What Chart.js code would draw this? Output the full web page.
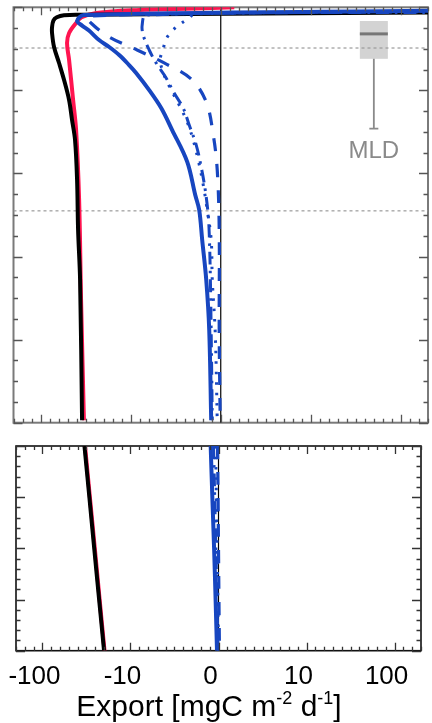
<!DOCTYPE html>
<html>
<head>
<meta charset="utf-8">
<script src="https://cdn.jsdelivr.net/npm/chart.js@4.4.1/dist/chart.umd.min.js"></script>
<style>
  html, body { margin: 0; padding: 0; background: #ffffff; }
  #wrap { position: relative; width: 432px; height: 723px; overflow: hidden; }
  canvas { position: absolute; left: 0; }
</style>
</head>
<body>
<div id="wrap">
  <canvas id="topChart" width="432" height="430" style="top:0px;width:432px;height:430px"></canvas>
  <canvas id="botChart" width="432" height="287" style="top:436px;width:432px;height:287px"></canvas>
</div>
<script>
// ---------------- DATA ----------------
// x axis tick marks (export, mgC m-2 d-1) and their labels
const xTickValues = [-100, -10, 0, 10, 100];
const xTickLabels = ['-100', '-10', '0', '10', '100'];

// upper panel (depth in m)
const blackDepthTop = [6, 9, 9.5, 12, 16, 24, 31, 47.8, 67, 87.5, 111.6, 135.7, 159.8, 208, 268, 328, 497];
const blackExportTop = [300, -35, -55, -66, -72, -74.5, -74.5, -70.8, -62.3, -54.8, -48.2, -44.7, -41.4, -39.3, -38.3, -36.4, -34.6];

const redDepthTop = [0, 2, 3.2, 6.9, 12, 18.9, 30.9, 43, 63.4, 111.6, 147.7, 232, 352, 497];
const redExportTop = [1.5, -5, -9, -24, -35, -40.3, -48.2, -50.8, -48.2, -43.5, -40.3, -37.3, -35.5, -33];

const blueSolidDepthTop = [4, 9.3, 16.5, 22, 28, 39.4, 47.8, 57.4, 69.5, 79, 99.6, 121.2, 147.7, 186, 226, 244, 280, 328, 388, 497];
const blueSolidExportTop = [300, -33, -39.3, -34.6, -29, -22.4, -17.3, -13.4, -10.4, -9.39, -7.94, -6.61, -5.39, -3.72, -2.83, -2.39, -2.06, -1.61, -1.28, -1.06];

const blueDashDepthTop = [5, 10.5, 20.1, 35.7, 51.4, 67, 86.3, 114, 153.8, 195.8, 268, 392, 497];
const blueDashExportTop = [300, -30.4, -26.8, -17.3, -9.28, -6.28, -3.28, -1.61, -0.83, -0.39, -0.17, -0.17, -0.06];

const blueDashDotDepthTop = [6, 9.3, 21.3, 33.3, 51.4, 67, 85.1, 103.2, 121.2, 141.7, 165.8, 192.2, 219.9, 250, 271.7, 316, 392, 497];
const blueDashDotExportTop = [300, -8.28, -8.72, -8.61, -7.94, -7.17, -6.06, -5.17, -4.17, -3.5, -2.72, -2.17, -1.72, -1.39, -1.28, -1.17, -1.06, -0.94];

const blueDotDepthTop = [4.5, 8.1, 12.9, 20.1, 28.5, 38.2, 50.2, 63.4, 81.5, 99.5, 117.6, 138, 159.7, 183.8, 213.9, 244, 280, 328, 392, 497];
const blueDotExportTop = [300, -2.94, -3.5, -4.5, -5.39, -6.06, -6.39, -6.72, -6.28, -5.5, -4.61, -3.72, -3.06, -2.5, -1.94, -1.5, -1.06, -0.94, -0.61, -0.39];

// reference depths (dotted lines) in upper panel
const refDepths = [49, 245];
// MLD box: [25th pct, median, 75th pct, max] depth, drawn at export value mldAt
const mldStats = [16.5, 32, 62, 146];
const mldAt = 50;

// lower panel (depth in m)
const deepDepth = [500, 1000, 1500, 2000, 2500];
const blackExportDeep = [-33.3, -29.3, -25.8, -22.7, -19.95];
const redExportDeep = [-32.8, -28.9, -25.4, -22.4, -19.7];
const blueSolidExportDeep = [-0.89, -0.7, -0.5, -0.33, -0.17];
const blueDashDotExportDeep = [-0.56, -0.43, -0.3, -0.17, -0.05];
const blueDotExportDeep = [-0.33, -0.24, -0.15, -0.07, 0];
const blueDashExportDeep = [-0.11, -0.05, 0, 0.05, 0.11];

// ---------------- HELPERS ----------------
const FONT = '"Liberation Sans", Arial, Helvetica, sans-serif';
const BLUE = '#1746c0';
const RED = '#ff1450';

// symmetric log transform: linear within +-10, one decade per unit outside
function T(v) {
  const a = Math.abs(v);
  return a <= 10 ? v / 10 : Math.sign(v) * (1 + Math.log10(a / 10));
}
function pts(depths, values) { return depths.map((d, i) => ({ x: T(values[i]), y: d })); }
function isMajorX(v) { return xTickValues.some(tv => Math.abs(T(tv) - v) < 1e-6); }

function curve(data, color, width, dash) {
  return { data, borderColor: color, borderWidth: width, borderDash: dash || [],
           pointRadius: 0, fill: false, tension: 0.35, borderCapStyle: 'butt', borderJoinStyle: 'round' };
}
function straight(data, color, width, dash) {
  return { data, borderColor: color, borderWidth: width, borderDash: dash || [],
           pointRadius: 0, fill: false, tension: 0, borderCapStyle: 'butt' };
}

function drawTicks(chart, yMajorEvery, color) {
  const { ctx, chartArea: a, scales: { x, y } } = chart;
  ctx.save();
  ctx.strokeStyle = color;
  ctx.lineWidth = 1.3;
  ctx.beginPath();
  x.ticks.forEach(t => {
    const px = Math.round(x.getPixelForValue(t.value)) + 0.5;
    const L = isMajorX(t.value) ? 8 : 4;
    ctx.moveTo(px, a.bottom); ctx.lineTo(px, a.bottom - L);
    ctx.moveTo(px, a.top); ctx.lineTo(px, a.top + L);
  });
  y.ticks.forEach(t => {
    const py = Math.round(y.getPixelForValue(t.value)) + 0.5;
    const L = (Math.abs(t.value % yMajorEvery) < 1e-6) ? 9 : 4.5;
    ctx.moveTo(a.left, py); ctx.lineTo(a.left + L, py);
    ctx.moveTo(a.right, py); ctx.lineTo(a.right - L, py);
  });
  ctx.stroke();
  ctx.restore();
}

const baseOptions = {
  responsive: false,
  animation: false,
  indexAxis: 'y',
  events: [],
  plugins: { legend: { display: false }, tooltip: { enabled: false }, title: { display: false } }
};

// ---------------- UPPER PANEL ----------------
const topDecor = {
  id: 'topDecor',
  beforeDatasetsDraw(chart) {
    const { ctx, chartArea: a, scales: { x, y } } = chart;
    ctx.save();
    ctx.strokeStyle = '#7a7a7a';
    ctx.lineWidth = 2;
    ctx.strokeRect(a.left, a.top, a.right - a.left, a.bottom - a.top);
    // MLD box plot
    const cx = x.getPixelForValue(T(mldAt));
    const hw = 14;
    const [q1, med, q3, mx] = mldStats.map(v => y.getPixelForValue(v));
    ctx.fillStyle = '#d3d3d3';
    ctx.fillRect(cx - hw, q1, 2 * hw, q3 - q1);
    ctx.strokeStyle = '#767676';
    ctx.lineWidth = 3;
    ctx.beginPath(); ctx.moveTo(cx - hw, med); ctx.lineTo(cx + hw, med); ctx.stroke();
    ctx.strokeStyle = '#8a8a8a';
    ctx.lineWidth = 1.8;
    ctx.beginPath();
    ctx.moveTo(cx, q3); ctx.lineTo(cx, mx);
    ctx.moveTo(cx - 4.5, mx); ctx.lineTo(cx + 4.5, mx);
    ctx.stroke();
    ctx.fillStyle = '#8a8a8a';
    ctx.font = '24px ' + FONT;
    ctx.textAlign = 'center';
    ctx.textBaseline = 'alphabetic';
    ctx.fillText('MLD', cx, mx + 29);
    ctx.restore();
  },
  afterDatasetsDraw(chart) { drawTicks(chart, 100, '#555'); }
};

new Chart(document.getElementById('topChart'), {
  type: 'line',
  data: {
    datasets: [
      curve(pts(blueSolidDepthTop, blueSolidExportTop), BLUE, 4),
      curve(pts(blueDashDepthTop, blueDashExportTop), BLUE, 3.2, [13, 13]),
      curve(pts(blueDashDotDepthTop, blueDashDotExportTop), BLUE, 3, [13, 6, 2.5, 6]),
      curve(pts(blueDotDepthTop, blueDotExportTop), BLUE, 3, [2.5, 8]),
      curve(pts(blackDepthTop, blackExportTop), '#000000', 4),
      curve(pts(redDepthTop, redExportTop), RED, 4),
      straight([{ x: 0, y: 0 }, { x: 0, y: 500 }], '#000000', 1.2),
      ...refDepths.map(d => straight([{ x: -2.3, y: d }, { x: 2.3, y: d }], '#9a9a9a', 1.2, [3, 3]))
    ]
  },
  options: {
    ...baseOptions,
    layout: { padding: { left: 13.5, right: 4, top: 7.3, bottom: 7.3 } },
    scales: {
      x: { type: 'linear', min: -2.3, max: 2.3, ticks: { display: false, stepSize: 0.1 },
           grid: { display: false, drawTicks: false }, border: { display: false },
           afterFit: s => { s.height = 0; } },
      y: { type: 'linear', min: 0, max: 500, reverse: true, ticks: { display: false, stepSize: 25 },
           grid: { display: false, drawTicks: false }, border: { display: false },
           afterFit: s => { s.width = 0; } }
    }
  },
  plugins: [topDecor]
});

// ---------------- LOWER PANEL ----------------
const botDecor = {
  id: 'botDecor',
  beforeDatasetsDraw(chart) {
    const { ctx, chartArea: a } = chart;
    ctx.save();
    ctx.strokeStyle = '#111';
    ctx.lineWidth = 1.6;
    ctx.strokeRect(a.left, a.top, a.right - a.left, a.bottom - a.top);
    ctx.restore();
  },
  afterDatasetsDraw(chart) { drawTicks(chart, 500, '#333'); },
  afterDraw(chart) {
    const { ctx } = chart;
    const parts = [
      { t: 'Export [mgC m', sup: false }, { t: '-2', sup: true },
      { t: ' d', sup: false }, { t: '-1', sup: true }, { t: ']', sup: false }
    ];
    const big = '30px ' + FONT, small = '18px ' + FONT;
    ctx.save();
    ctx.fillStyle = '#000';
    ctx.textBaseline = 'alphabetic';
    ctx.textAlign = 'left';
    let total = 0;
    parts.forEach(p => { ctx.font = p.sup ? small : big; p.w = ctx.measureText(p.t).width; total += p.w; });
    let xx = 209 - total / 2;
    const base = 280;
    parts.forEach(p => {
      ctx.font = p.sup ? small : big;
      ctx.fillText(p.t, xx, p.sup ? base - 12 : base);
      xx += p.w;
    });
    ctx.restore();
  }
};

new Chart(document.getElementById('botChart'), {
  type: 'line',
  data: {
    datasets: [
      curve(pts(deepDepth, blueSolidExportDeep), BLUE, 4),
      curve(pts(deepDepth, blueDashExportDeep), BLUE, 3.2, [13, 13]),
      curve(pts(deepDepth, blueDashDotExportDeep), BLUE, 3, [13, 6, 2.5, 6]),
      curve(pts(deepDepth, blueDotExportDeep), BLUE, 3, [2.5, 8]),
      curve(pts(deepDepth, blackExportDeep), '#000000', 4),
      curve(pts(deepDepth, redExportDeep), RED, 4),
      straight([{ x: 0, y: 500 }, { x: 0, y: 2500 }], '#000000', 1.2)
    ]
  },
  options: {
    ...baseOptions,
    layout: { padding: { left: 16, right: 2, top: 10, bottom: 0 } },
    scales: {
      x: { type: 'linear', position: 'bottom', min: -2.3, max: 2.3,
           ticks: { display: true, stepSize: 0.1, autoSkip: false, maxRotation: 0, minRotation: 0,
                    padding: 11, labelOffset: -8, color: '#000', font: { family: FONT, size: 26 },
                    callback: v => { const i = xTickValues.findIndex(tv => Math.abs(T(tv) - v) < 1e-6); return i >= 0 ? xTickLabels[i] : ''; } },
           grid: { display: false, drawTicks: false }, border: { display: false },
           afterFit: s => { s.height = 72.3; } },
      y: { type: 'linear', min: 500, max: 2500, reverse: true, ticks: { display: false, stepSize: 100 },
           grid: { display: false, drawTicks: false }, border: { display: false },
           afterFit: s => { s.width = 0; } }
    }
  },
  plugins: [botDecor]
});
</script>
</body>
</html>
